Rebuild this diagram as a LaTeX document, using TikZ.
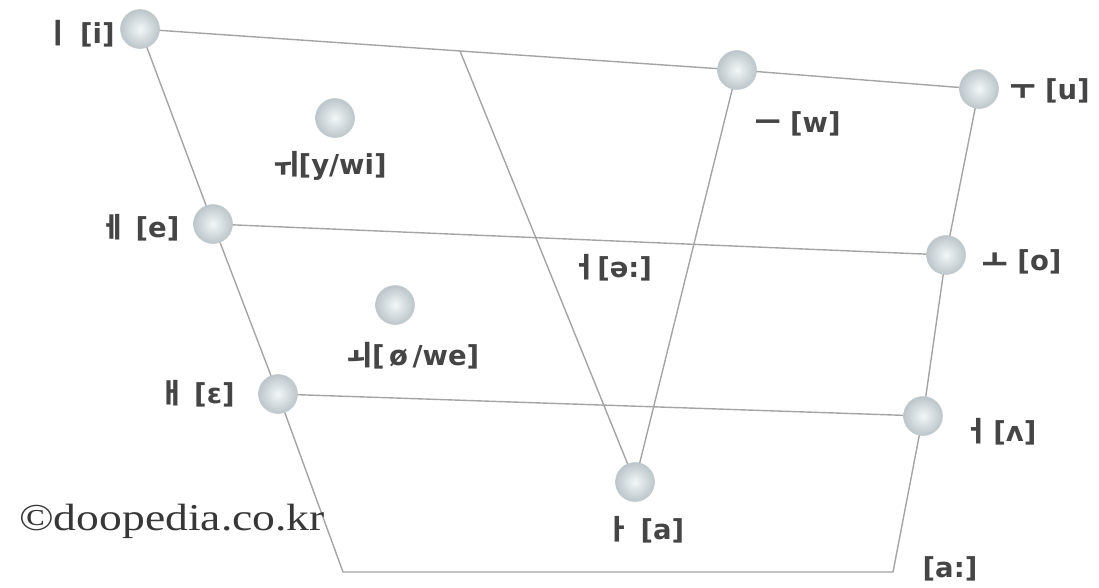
\documentclass[tikz,border=0pt]{standalone}
\usepackage{fontspec}
\setmainfont{DejaVu Sans}
\newfontfamily\krfont{Noto Sans CJK KR}
\newfontfamily\cpfont{Liberation Serif}
\usetikzlibrary{backgrounds,calc}
\definecolor{linegray}{HTML}{A4A4A4}
\definecolor{labelgray}{HTML}{454545}
\definecolor{ballin}{HTML}{F2F6F8}
\definecolor{ballout}{HTML}{BCC6CA}
\definecolor{ballrim}{HTML}{C3CBCF}
\newcommand{\jm}[1]{{\krfont\bfseries #1}}
\begin{document}
\begin{tikzpicture}[x=1pt,y=-1pt,
  vowel/.style={circle,minimum size=39pt,inner sep=0pt,draw=ballrim,line width=0.6pt,inner color=ballin,outer color=ballout},
  lbl/.style={font=\fontsize{27.5}{31}\selectfont\bfseries,text=labelgray,inner sep=0pt,anchor=center},
  edge/.style={draw=linegray,line width=1.4pt}]
\useasboundingbox (0,0) rectangle (1099,587);
% vowel points
\node[vowel] (i)   at (140,29)  {};
\node[vowel] (w)   at (737,70)  {};
\node[vowel] (u)   at (979,89)  {};
\node[vowel] (yw)  at (335,118) {};
\node[vowel] (e)   at (213,224) {};
\node[vowel] (o)   at (946,255) {};
\node[vowel] (oe)  at (395,305) {};
\node[vowel] (eps) at (278,394) {};
\node[vowel] (vv)  at (923,416) {};
\node[vowel] (a)   at (635,482) {};
\coordinate (bl) at (343,572);
\coordinate (br) at (893,572);
\coordinate (d) at ($(i.center)!0.536!(w.center)$);
% connectors
\begin{pgfonlayer}{background}
\draw[edge] (i.center) -- (w.center) -- (u.center) -- (o.center) -- (vv.center) -- (br) -- (bl) -- (eps.center) -- (e.center) -- (i.center);
\draw[edge] (e.center) -- (o.center);
\draw[edge] (eps.center) -- (vv.center);
\draw[edge] (d) -- (a.center);
\draw[edge] (w.center) -- (a.center);
\end{pgfonlayer}
% labels
\node[lbl] (li)  at (80,34)    {\jm{ㅣ}\ [i]};
\node[lbl] (lyw) at (330,166)  {\jm{ㅟ}[y/wi]};
\node[lbl] (le)  at (140,228)  {\jm{ㅔ} [e]};
\node[lbl] (loe) at (413,356)  {\jm{ㅚ}[\,ø\,/we]};
\node[lbl] (leps) at (197,394) {\jm{ㅐ} [ɛ]};
\node[lbl] (la)  at (645,530)  {\jm{ㅏ} [a]};
\node[lbl] (laa) at (950,569)  {[a:]};
\node[lbl] (lvv) at (1000,432) {\jm{ㅓ}\,[ʌ]};
\node[lbl] (lw)  at (798,124)  {\jm{ㅡ} [w]};
\node[lbl] (lu)  at (1050,91)  {\jm{ㅜ} [u]};
\node[lbl] (lo)  at (1022,262) {\jm{ㅗ} [o]};
\node[lbl] (lschwa) at (612,268) {\jm{ㅓ}[ə:]};
\node[inner sep=0pt,text=labelgray!80!black] (copy) at (172,521) {\cpfont\fontsize{38}{40}\selectfont\scalebox{1.2}[1]{©doopedia.co.kr}};
\end{tikzpicture}
\end{document}
